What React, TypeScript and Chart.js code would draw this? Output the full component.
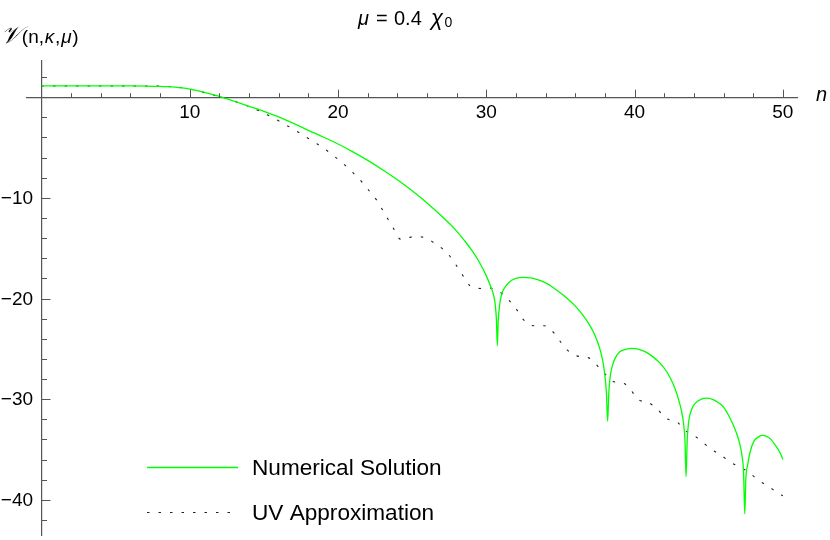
import React, { useEffect, useRef } from 'react';
import { Chart, registerables } from 'chart.js';

Chart.register(...registerables);

// Numerical solution (green)
const numX = [0, 2, 4, 6, 7, 8, 8.5, 9, 9.5, 10, 11, 12, 13, 14, 15, 16, 17, 18, 19, 20, 21, 22, 23, 24, 25, 26, 27, 28, 28.5, 29, 29.5, 30, 30.3, 30.5, 30.6, 30.68, 30.74, 30.8, 30.9, 31.05, 31.3, 31.6, 32, 32.5, 33, 33.5, 34, 34.5, 35, 35.5, 36, 36.5, 37, 37.3, 37.6, 37.85, 38.0, 38.1, 38.18, 38.26, 38.35, 38.5, 38.7, 39.0, 39.4, 39.8, 40.3, 40.8, 41.2, 41.7, 42.2, 42.6, 42.9, 43.15, 43.3, 43.4, 43.47, 43.55, 43.65, 43.85, 44.1, 44.5, 44.9, 45.3, 45.7, 46.0, 46.3, 46.6, 46.8, 47.05, 47.25, 47.35, 47.43, 47.5, 47.63, 47.8, 48.04, 48.3, 48.6, 48.9, 49.2, 49.5, 49.8, 50.0];
const numY = [1.12, 1.12, 1.12, 1.12, 1.11, 1.08, 1.05, 1.0, 0.92, 0.8, 0.48, 0.08, -0.4, -0.9, -1.4, -1.95, -2.6, -3.3, -3.95, -4.65, -5.43, -6.27, -7.2, -8.2, -9.3, -10.5, -11.83, -13.3, -14.2, -15.17, -16.32, -17.75, -18.83, -19.73, -20.6, -22.1, -24.7, -22.3, -20.6, -19.5, -18.8, -18.3, -18.0, -17.9, -17.96, -18.16, -18.45, -18.9, -19.45, -20.05, -20.76, -21.62, -22.72, -23.58, -24.74, -26.18, -27.7, -29.4, -32.2, -29.4, -27.8, -26.7, -25.9, -25.3, -25.05, -24.96, -25.05, -25.35, -25.75, -26.4, -27.35, -28.5, -29.7, -31.1, -32.4, -34.2, -37.7, -34.0, -32.2, -31.0, -30.4, -30.0, -29.9, -30.05, -30.4, -30.8, -31.5, -32.4, -33.1, -34.2, -35.7, -37.3, -41.4, -38.0, -36.5, -35.2, -34.2, -33.8, -33.6, -33.7, -34.0, -34.6, -35.3, -36.0];

// UV approximation (black dotted)
const uvX = [0, 2, 4, 6, 8, 9, 10, 11, 12, 12.25, 13, 13.8, 14.5, 15.3, 16, 16.6, 17.3, 18, 18.6, 19.2, 19.9, 20.5, 21, 21.6, 22, 22.4, 22.6, 23, 23.4, 23.8, 24.2, 24.5, 24.9, 25.3, 25.7, 26.1, 26.4, 27, 27.6, 28.1, 28.5, 28.9, 29.3, 29.6, 30.0, 30.4, 30.7, 31.05, 31.6, 32.0, 32.5, 32.9, 33.2, 33.9, 34.3, 34.6, 35.0, 35.45, 35.8, 36.1, 36.5, 36.9, 37.2, 37.5, 38.0, 38.5, 38.9, 39.3, 39.7, 40.0, 40.3, 40.9, 41.3, 41.6, 42.1, 42.5, 42.9, 43.3, 44.0, 44.6, 45.2, 45.9, 46.5, 47.2, 47.8, 48.4, 49.05, 49.7, 50];
const uvY = [1.12, 1.12, 1.12, 1.12, 1.1, 1.02, 0.82, 0.45, 0.05, -0.03, -0.4, -0.8, -1.25, -1.8, -2.35, -2.85, -3.45, -4.1, -4.65, -5.25, -6.05, -6.8, -7.5, -8.4, -9.1, -9.9, -10.2, -11.2, -12.2, -13.2, -14.1, -14.1, -13.9, -13.85, -13.9, -14.1, -14.4, -15.0, -15.9, -17.0, -17.9, -18.75, -18.95, -19.0, -18.95, -19.0, -19.2, -19.5, -20.3, -21.0, -22.1, -22.6, -22.7, -22.7, -23.0, -23.5, -24.3, -25.1, -25.5, -25.7, -25.8, -25.9, -26.2, -26.7, -27.5, -28.2, -28.35, -28.45, -29.0, -29.6, -30.1, -30.3, -30.7, -31.1, -31.9, -32.1, -32.3, -33.0, -33.6, -34.3, -35.0, -35.65, -36.3, -36.8, -37.4, -38.1, -38.7, -39.35, -39.6];

const xTicks = [2, 4, 6, 8, 10, 12, 14, 16, 18, 20, 22, 24, 26, 28, 30, 32, 34, 36, 38, 40, 42, 44, 46, 48, 50];
const xMajor = [10, 20, 30, 40, 50];
const yTicks = [-42, -40, -38, -36, -34, -32, -30, -28, -26, -24, -22, -20, -18, -16, -14, -12, -10, -8, -6, -4, -2, 2];
const yMajor = [-40, -30, -20, -10];

const seriesNames = ['Numerical Solution', 'UV Approximation'];
const titleParts = ['\u03bc', '=', '0.4', '\u03c7', '0'];
const yLabelParts = ['\ud835\udcb1', '(n,', '\u03ba', ',', '\u03bc', ')'];
const xLabel = 'n';

const GREEN = 'rgb(0,255,0)';
const UVCOLOR = '#222222';
const UVDASH = [2.5, 9];
const AXIS = '#555555';
const FONT = '"Liberation Sans", Arial, sans-serif';

const decorPlugin = {
  id: 'decor',
  afterDraw(chart: any) {
    const { ctx } = chart;
    const xs = chart.scales.x;
    const ys = chart.scales.y;
    const x0 = xs.getPixelForValue(0);
    const y0 = ys.getPixelForValue(0);
    ctx.save();
    ctx.strokeStyle = AXIS;
    ctx.lineWidth = 1;
    ctx.setLineDash([]);
    xTicks.forEach((v) => {
      const px = Math.round(xs.getPixelForValue(v)) + 0.5;
      const len = xMajor.includes(v) ? 7.5 : 4;
      ctx.beginPath();
      ctx.moveTo(px, y0);
      ctx.lineTo(px, y0 - len);
      ctx.stroke();
    });
    yTicks.forEach((v) => {
      const py = Math.round(ys.getPixelForValue(v)) + 0.5;
      const len = yMajor.includes(v) ? 9 : 5.5;
      ctx.beginPath();
      ctx.moveTo(x0, py);
      ctx.lineTo(x0 + len, py);
      ctx.stroke();
    });

    ctx.fillStyle = '#000';
    // y tick labels
    ctx.font = '19px ' + FONT;
    ctx.textAlign = 'right';
    ctx.textBaseline = 'middle';
    yMajor.forEach((v) => {
      ctx.fillText('\u2212' + Math.abs(v), x0 - 8.5, ys.getPixelForValue(v) + 1);
    });

    ctx.textBaseline = 'alphabetic';
    ctx.textAlign = 'left';
    // title
    const tItal = 'italic 20px ' + FONT;
    const tReg = '20px ' + FONT;
    ctx.font = tItal; ctx.fillText(titleParts[0], 358, 25);
    ctx.font = tReg; ctx.fillText(titleParts[1], 376, 25);
    ctx.fillText(titleParts[2], 394, 25);
    ctx.font = 'italic 22px ' + FONT; ctx.fillText(titleParts[3], 431, 25);
    ctx.font = '14px ' + FONT; ctx.fillText(titleParts[4], 444.5, 27);

    // y axis label
    let lx = 1;
    const parts: [string, string][] = [
      [yLabelParts[0], 'italic 24px "DejaVu Serif", serif'],
      [yLabelParts[1], '19px ' + FONT],
      [yLabelParts[2], 'italic 19px ' + FONT],
      [yLabelParts[3], '19px ' + FONT],
      [yLabelParts[4], 'italic 19px ' + FONT],
      [yLabelParts[5], '19px ' + FONT],
    ];
    parts.forEach(([t, f]) => {
      ctx.font = f;
      ctx.fillText(t, lx, 43);
      lx += ctx.measureText(t).width + 0.8;
    });

    // x axis label
    ctx.font = 'italic 20px ' + FONT;
    ctx.fillText(xLabel, 816, 101);

    // legend
    const styles = [
      { color: GREEN, width: 1.5, dash: [] as number[] },
      { color: UVCOLOR, width: 1.1, dash: UVDASH },
    ];
    const rows = [467, 512];
    styles.forEach((s, i) => {
      ctx.strokeStyle = s.color;
      ctx.lineWidth = s.width;
      ctx.setLineDash(s.dash);
      ctx.beginPath();
      ctx.moveTo(147, rows[i] + 0.5);
      ctx.lineTo(238, rows[i] + 0.5);
      ctx.stroke();
      ctx.setLineDash([]);
      ctx.fillStyle = '#000';
      ctx.font = '22.6px ' + FONT;
      ctx.fillText(seriesNames[i], 252, rows[i] + 8);
    });
    ctx.restore();
  },
};

export default function App() {
  const ref = useRef<HTMLCanvasElement | null>(null);
  useEffect(() => {
    if (!ref.current) return;
    const chart = new Chart(ref.current, {
      type: 'line',
      data: {
        datasets: [
          {
            label: seriesNames[0],
            data: numX.map((x, i) => ({ x, y: numY[i] })),
            borderColor: GREEN,
            borderWidth: 1.3,
            pointRadius: 0,
            fill: false,
            cubicInterpolationMode: 'monotone',
          },
          {
            label: seriesNames[1],
            data: uvX.map((x, i) => ({ x, y: uvY[i] })),
            borderColor: UVCOLOR,
            borderWidth: 1.1,
            borderDash: UVDASH,
            pointRadius: 0,
            fill: false,
            cubicInterpolationMode: 'monotone',
          },
        ],
      },
      options: {
        animation: false,
        responsive: false,
        layout: { padding: { left: 26.7, right: 32.3, top: 61, bottom: 5 } },
        plugins: { legend: { display: false }, title: { display: false }, tooltip: { enabled: false } },
        scales: {
          x: {
            type: 'linear',
            min: -1,
            max: 51,
            position: { y: 0 } as any,
            grid: { display: false, drawTicks: false },
            border: { display: true, color: AXIS, width: 1.2 },
            afterBuildTicks: (s: any) => { s.ticks = xTicks.map((v) => ({ value: v })); },
            afterFit: (s: any) => { s.paddingLeft = 0; s.paddingRight = 0; s.paddingTop = 0; s.paddingBottom = 0; },
            ticks: {
              autoSkip: false,
              maxRotation: 0,
              padding: 4,
              color: '#000',
              font: { family: FONT, size: 19 },
              callback: (v: any) => (xMajor.includes(Number(v)) ? String(v) : ''),
            },
          },
          y: {
            type: 'linear',
            min: -43.5,
            max: 3.6,
            position: { x: 0 } as any,
            grid: { display: false, drawTicks: false },
            border: { display: true, color: AXIS, width: 1.2 },
            afterBuildTicks: (s: any) => { s.ticks = yTicks.map((v) => ({ value: v })); },
            afterFit: (s: any) => { s.paddingLeft = 0; s.paddingRight = 0; s.paddingTop = 0; s.paddingBottom = 0; },
            ticks: { display: false },
          },
        },
      },
      plugins: [decorPlugin],
    });
    return () => chart.destroy();
  }, []);
  return (
    <div style={{ position: 'absolute', left: 0, top: 0, width: 830, height: 540, background: '#fff' }}>
      <canvas ref={ref} width={830} height={540} />
    </div>
  );
}
